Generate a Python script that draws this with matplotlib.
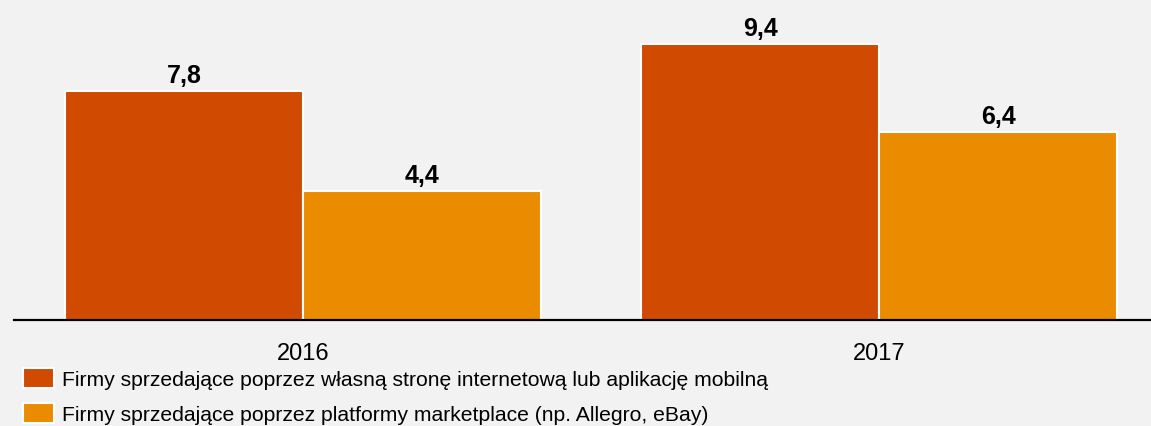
import numpy as np
import matplotlib.pyplot as plt

# data
years = ["2016", "2017"]
own_site = [7.8, 9.4]
marketplace = [4.4, 6.4]
series_names = [
    "Firmy sprzedające poprzez własną stronę internetową lub aplikację mobilną",
    "Firmy sprzedające poprzez platformy marketplace (np. Allegro, eBay)",
]

BG = "#F2F2F2"
DARK = "#D04A02"
LIGHT = "#EB8C00"

plt.rcParams["font.family"] = ["Liberation Sans", "DejaVu Sans"]

fig = plt.figure(figsize=(11.51, 4.27), dpi=100, facecolor=BG)
ax = fig.add_axes([14 / 1151, 106 / 427, 1 - 14 / 1151, 321 / 427])
ax.set_facecolor(BG)

x = np.arange(len(years))
w = 0.413
b1 = ax.bar(x - w / 2, own_site, w, color=DARK, edgecolor="white", linewidth=1.5,
            label=series_names[0])
b2 = ax.bar(x + w / 2, marketplace, w, color=LIGHT, edgecolor="white", linewidth=1.5,
            label=series_names[1])

for bars, vals in ((b1, own_site), (b2, marketplace)):
    for rect, v in zip(bars, vals):
        ax.annotate(f"{v:.1f}".replace(".", ","),
                    (rect.get_x() + rect.get_width() / 2, rect.get_height()),
                    xytext=(0, 2.5), textcoords="offset points",
                    ha="center", va="bottom", fontsize=18, fontweight="bold")

ax.set_xlim(-0.502, 1.472)
ax.set_ylim(0, 10.92)
ax.set_xticks(x)
ax.set_xticklabels(years, fontsize=17)
ax.tick_params(axis="x", length=0, pad=16)
ax.set_yticks([])
for s in ("top", "right", "left"):
    ax.spines[s].set_visible(False)
ax.spines["bottom"].set_linewidth(1.6)
ax.spines["bottom"].set_color("black")

fig.legend(handles=[b1, b2], loc="upper left", bbox_to_anchor=(23 / 1151, 1 - 369 / 427),
           frameon=False, fontsize=15.25, handlelength=1.47, handleheight=1.04,
           handletextpad=0.38, labelspacing=0.68, borderaxespad=0, borderpad=0)

fig.savefig("out.png", dpi=100, facecolor=BG)
